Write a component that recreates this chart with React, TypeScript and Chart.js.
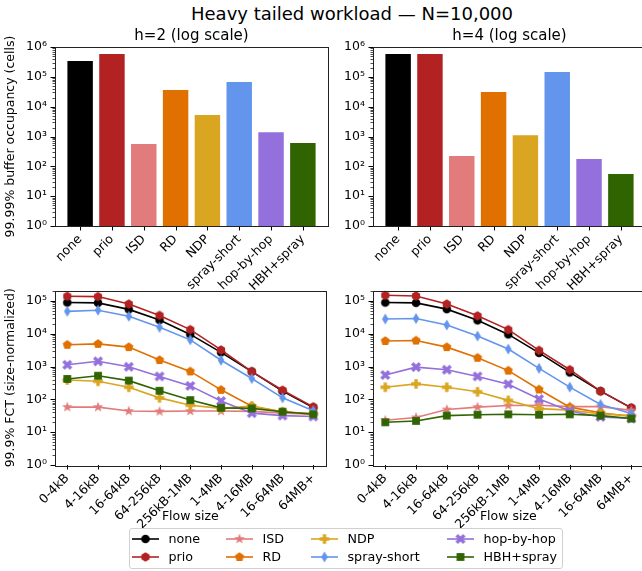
import React, { useEffect, useRef } from 'react';
import { Chart, registerables } from 'chart.js';

Chart.register(...registerables);

// ---------------- data ----------------
const categories = ['none', 'prio', 'ISD', 'RD', 'NDP', 'spray-short', 'hop-by-hop', 'HBH+spray'];
const flowSizes = ['0-4kB', '4-16kB', '16-64kB', '64-256kB', '256kB-1MB', '1-4MB', '4-16MB', '16-64MB', '64MB+'];

const bufferH2 = [3.4e5, 5.8e5, 560, 3.6e4, 5.3e3, 6.7e4, 1.4e3, 605];
const bufferH4 = [5.8e5, 5.8e5, 223, 3.1e4, 1.1e3, 1.45e5, 176, 55];

const fctH2None = [8.9e4, 8.7e4, 5.5e4, 2.6e4, 9.5e3, 2.7e3, 700, 178, 56];
const fctH2Prio = [1.38e5, 1.35e5, 8.0e4, 3.6e4, 1.33e4, 3.2e3, 700, 190, 59];
const fctH2ISD = [58, 58, 44, 43, 44, 44, 43, 38, 35];
const fctH2RD = [4.6e3, 4.9e3, 3.9e3, 1.58e3, 710, 195, 62, 41, 37];
const fctH2NDP = [390, 355, 234, 111, 66, 53, 62, 42, 35];
const fctH2Spray = [4.8e4, 5.2e4, 3.4e4, 1.56e4, 6.5e3, 1.55e3, 430, 111, 45];
const fctH2HBH = [1.13e3, 1.44e3, 980, 500, 257, 89, 38, 32, 30];
const fctH2HBHSpray = [418, 525, 372, 182, 95, 55, 53, 42, 35];

const fctH4None = [8.9e4, 8.7e4, 5.6e4, 2.55e4, 9.5e3, 2.6e3, 660, 178, 55];
const fctH4Prio = [1.48e5, 1.41e5, 8.0e4, 3.5e4, 1.33e4, 3.1e3, 800, 178, 55];
const fctH4ISD = [23, 28, 49, 58, 65, 66, 60, 60, 46];
const fctH4RD = [6.0e3, 6.2e3, 3.9e3, 1.85e3, 750, 200, 58, 39, 30];
const fctH4NDP = [234, 295, 234, 170, 93, 52, 47, 36, 32];
const fctH4Spray = [2.8e4, 2.9e4, 1.84e4, 8.5e3, 3.4e3, 880, 235, 70, 37];
const fctH4HBH = [550, 960, 800, 500, 290, 102, 44, 29, 26];
const fctH4HBHSpray = [20, 22, 32, 34, 35, 34, 35, 32, 26];

const fctH2 = [fctH2None, fctH2Prio, fctH2ISD, fctH2RD, fctH2NDP, fctH2Spray, fctH2HBH, fctH2HBHSpray];
const fctH4 = [fctH4None, fctH4Prio, fctH4ISD, fctH4RD, fctH4NDP, fctH4Spray, fctH4HBH, fctH4HBHSpray];

const colors = ['#000000', '#b22222', '#e27b7b', '#e07000', '#daa520', '#6495ed', '#9370db', '#2f6400'];
const markers = ['circle', 'hexagon', 'star', 'pentagon', 'plus', 'thinDiamond', 'x', 'square'];

const FONT = "'DejaVu Sans', sans-serif";
const SUP = ['⁰', '¹', '²', '³', '⁴', '⁵', '⁶', '⁷', '⁸', '⁹'];

// ---------------- helpers ----------------
function makeMarker(shape: string, color: string): HTMLCanvasElement {
  const S = 14;
  const c = document.createElement('canvas');
  c.width = S;
  c.height = S;
  const ctx = c.getContext('2d')!;
  ctx.translate(S / 2, S / 2);
  ctx.fillStyle = color;
  ctx.beginPath();
  const poly = (pts: number[][]) => {
    pts.forEach(([x, y], i) => (i ? ctx.lineTo(x, y) : ctx.moveTo(x, y)));
    ctx.closePath();
  };
  const regular = (n: number, r: number, rot: number) =>
    Array.from({ length: n }, (_, i) => {
      const a = rot + (i * 2 * Math.PI) / n;
      return [r * Math.cos(a), r * Math.sin(a)];
    });
  const plus = (a: number, b: number) => [
    [-b, -a], [b, -a], [b, -b], [a, -b], [a, b], [b, b],
    [b, a], [-b, a], [-b, b], [-a, b], [-a, -b], [-b, -b],
  ];
  switch (shape) {
    case 'circle':
      ctx.arc(0, 0, 4.3, 0, Math.PI * 2);
      break;
    case 'hexagon':
      poly(regular(6, 4.7, -Math.PI / 2));
      break;
    case 'pentagon':
      poly(regular(5, 4.8, -Math.PI / 2));
      break;
    case 'star': {
      const pts: number[][] = [];
      for (let i = 0; i < 10; i++) {
        const r = i % 2 ? 2.3 : 5.5;
        const a = -Math.PI / 2 + (i * Math.PI) / 5;
        pts.push([r * Math.cos(a), r * Math.sin(a)]);
      }
      poly(pts);
      break;
    }
    case 'plus':
      poly(plus(4.8, 1.7));
      break;
    case 'thinDiamond':
      poly([[0, -5.5], [3.3, 0], [0, 5.5], [-3.3, 0]]);
      break;
    case 'x':
      ctx.rotate(Math.PI / 4);
      poly(plus(5.4, 1.7));
      break;
    case 'square':
      ctx.rect(-3.9, -3.9, 7.8, 7.8);
      break;
  }
  ctx.fill();
  return c;
}

function logTicks(min: number, max: number) {
  const ticks: any[] = [];
  for (let e = -1; e <= 7; e++) {
    for (let m = 1; m <= 9; m++) {
      const v = m * Math.pow(10, e);
      if (v >= min * 0.999 && v <= max * 1.001) ticks.push({ value: v, isMajor: m === 1 });
    }
  }
  return ticks;
}

function fmtLog(v: number) {
  const e = Math.log10(v);
  const r = Math.round(e);
  if (Math.abs(e - r) < 1e-6) return '10' + SUP[r];
  return '';
}

const framePlugin = {
  id: 'frame',
  afterDraw(chart: any, _args: any, opts: any) {
    const { ctx, chartArea } = chart;
    const { left, top, right, bottom } = chartArea;
    ctx.save();
    ctx.strokeStyle = '#000';
    ctx.lineWidth = 1;
    const xs = chart.scales.x;
    const ys = chart.scales.y;
    ctx.beginPath();
    for (const t of xs.ticks) {
      const p = Math.round(xs.getPixelForValue(t.value)) + 0.5;
      ctx.moveTo(p, bottom);
      ctx.lineTo(p, bottom + 4.5);
    }
    ctx.stroke();
    for (const t of ys.ticks) {
      const p = Math.round(ys.getPixelForValue(t.value)) + 0.5;
      const len = t.isMajor ? 4.5 : 2.5;
      ctx.beginPath();
      ctx.lineWidth = t.isMajor ? 1 : 0.7;
      ctx.moveTo(left, p);
      ctx.lineTo(left - len, p);
      ctx.stroke();
    }
    ctx.lineWidth = 1;
    ctx.strokeStyle = '#222';
    ctx.strokeRect(Math.round(left) + 0.5, Math.round(top) + 0.5, Math.round(right - left), Math.round(bottom - top));
    if (opts && opts.title) {
      ctx.fillStyle = '#000';
      ctx.font = `15px ${FONT}`;
      ctx.textAlign = 'center';
      ctx.textBaseline = 'alphabetic';
      ctx.fillText(opts.title, (left + right) / 2, top - 7.5);
    }
    ctx.restore();
  },
};

function yAxis(max: number, label: string, showTitle: boolean) {
  return {
    type: 'logarithmic',
    min: 1,
    max,
    afterBuildTicks: (s: any) => {
      s.ticks = logTicks(1, max);
    },
    afterFit: (s: any) => {
      s.width = 55;
    },
    ticks: { autoSkip: false, padding: 8, callback: (v: any) => fmtLog(Number(v)), font: { size: 12.5 } },
    grid: { display: false, drawTicks: false },
    border: { display: false },
    title: { display: showTitle, text: label, font: { size: 12.5 }, padding: { top: 3, bottom: 0 } },
  };
}

function barConfig(values: number[], title: string, showYTitle: boolean): any {
  return {
    type: 'bar',
    data: {
      datasets: [
        {
          data: values.map((v, i) => ({ x: i, y: v })),
          backgroundColor: colors,
          borderWidth: 0,
          categoryPercentage: 1,
          barPercentage: 0.8,
        },
      ],
    },
    options: {
      responsive: false,
      devicePixelRatio: 1,
      animation: false,
      layout: { autoPadding: false, padding: { top: 47, left: 0, right: 2, bottom: 0 } },
      plugins: { legend: { display: false }, tooltip: { enabled: false }, frame: { title } },
      scales: {
        x: {
          type: 'linear',
          offset: false,
          min: -0.79,
          max: 7.79,
          afterBuildTicks: (s: any) => {
            s.ticks = categories.map((_, i) => ({ value: i }));
          },
          afterFit: (s: any) => {
            s.height = 64;
          },
          ticks: {
            autoSkip: false,
            minRotation: 45,
            maxRotation: 45,
            padding: 6,
            font: { size: 12.5 },
            callback: (v: any) => categories[Math.round(Number(v))] ?? '',
          },
          grid: { display: false, drawTicks: false },
          border: { display: false },
        },
        y: yAxis(1e6, '99.99% buffer occupancy (cells)', showYTitle),
      },
    },
    plugins: [framePlugin],
  };
}

function lineConfig(series: number[][], showYTitle: boolean, imgs: HTMLCanvasElement[]): any {
  return {
    type: 'line',
    data: {
      datasets: series.map((vals, idx) => ({
        label: categories[idx],
        data: vals.map((v, i) => ({ x: i, y: v })),
        borderColor: colors[idx],
        backgroundColor: colors[idx],
        borderWidth: 1.6,
        pointStyle: imgs[idx],
        pointRadius: 4,
        order: 8 - idx,
        tension: 0,
        fill: false,
      })),
    },
    options: {
      responsive: false,
      devicePixelRatio: 1,
      animation: false,
      layout: { autoPadding: false, padding: { top: 13.5, left: 0, right: 2, bottom: 0 } },
      plugins: { legend: { display: false }, tooltip: { enabled: false }, frame: {} },
      scales: {
        x: {
          type: 'linear',
          offset: false,
          min: -0.4,
          max: 8.4,
          afterBuildTicks: (s: any) => {
            s.ticks = flowSizes.map((_, i) => ({ value: i }));
          },
          afterFit: (s: any) => {
            s.height = 65;
          },
          ticks: {
            autoSkip: false,
            minRotation: 45,
            maxRotation: 45,
            padding: 6,
            font: { size: 12.5 },
            callback: (v: any) => flowSizes[Math.round(Number(v))] ?? '',
          },
          grid: { display: false, drawTicks: false },
          border: { display: false },
          title: { display: true, text: 'Flow size', font: { size: 12.5 }, padding: { top: 0, bottom: 5.5 } },
        },
        y: yAxis(2.07e5, '99.9% FCT (size-normalized)', showYTitle),
      },
    },
    plugins: [framePlugin],
  };
}

function LegendIcon({ idx }: { idx: number }) {
  const ref = useRef<HTMLCanvasElement>(null);
  useEffect(() => {
    const c = ref.current!;
    const ctx = c.getContext('2d')!;
    ctx.clearRect(0, 0, c.width, c.height);
    ctx.strokeStyle = colors[idx];
    ctx.lineWidth = 1.6;
    ctx.beginPath();
    ctx.moveTo(0, 7);
    ctx.lineTo(27, 7);
    ctx.stroke();
    const m = makeMarker(markers[idx], colors[idx]);
    ctx.drawImage(m, 13.5 - m.width / 2, 7 - m.height / 2);
  }, [idx]);
  return <canvas ref={ref} width={27} height={14} style={{ display: 'block' }} />;
}

const legendColX = [3, 97, 182, 318];
const legendRowY = [2, 20];

export default function App() {
  const tl = useRef<HTMLCanvasElement>(null);
  const tr = useRef<HTMLCanvasElement>(null);
  const bl = useRef<HTMLCanvasElement>(null);
  const br = useRef<HTMLCanvasElement>(null);

  useEffect(() => {
    Chart.defaults.font.family = FONT;
    Chart.defaults.font.size = 12.5;
    Chart.defaults.color = '#000';
    const imgs = markers.map((m, i) => makeMarker(m, colors[i]));
    const charts = [
      new Chart(tl.current!, barConfig(bufferH2, 'h=2 (log scale)', true)),
      new Chart(tr.current!, barConfig(bufferH4, 'h=4 (log scale)', false)),
      new Chart(bl.current!, lineConfig(fctH2, true, imgs)),
      new Chart(br.current!, lineConfig(fctH4, false, imgs)),
    ];
    return () => charts.forEach((c) => c.destroy());
  }, []);

  const cv = (left: number, top: number, h: number): React.CSSProperties => ({
    position: 'absolute',
    left,
    top,
    width: 330,
    height: h,
    display: 'block',
  });

  return (
    <div
      style={{
        position: 'absolute',
        left: 0,
        top: 0,
        width: 642,
        height: 571,
        overflow: 'hidden',
        background: '#fff',
        fontFamily: FONT,
      }}
    >
      <div
        style={{
          position: 'absolute',
          left: 352,
          top: 5,
          transform: 'translateX(-50%)',
          whiteSpace: 'nowrap',
          fontSize: 18,
          lineHeight: '18px',
          color: '#000',
        }}
      >
        Heavy tailed workload — N=10,000
      </div>
      <canvas ref={tl} width={330} height={290} style={cv(0, 0, 290)} />
      <canvas ref={tr} width={330} height={290} style={cv(318, 0, 290)} />
      <canvas ref={bl} width={330} height={255} style={cv(0, 275, 255)} />
      <canvas ref={br} width={330} height={255} style={cv(318, 275, 255)} />
      <div
        style={{
          position: 'absolute',
          left: 129,
          top: 528,
          width: 434,
          height: 41,
          border: '1px solid #d0d0d0',
          borderRadius: 3,
          boxSizing: 'border-box',
          background: 'rgba(255,255,255,0.8)',
          fontSize: 12.7,
        }}
      >
        {categories.map((name, i) => (
          <div
            key={name}
            style={{
              position: 'absolute',
              left: legendColX[Math.floor(i / 2)] - 1,
              top: legendRowY[i % 2] - 1,
              height: 18,
              lineHeight: '18px',
              display: 'flex',
              alignItems: 'center',
              whiteSpace: 'nowrap',
            }}
          >
            <LegendIcon idx={i} />
            <span style={{ marginLeft: 9.5 }}>{name}</span>
          </div>
        ))}
      </div>
    </div>
  );
}
